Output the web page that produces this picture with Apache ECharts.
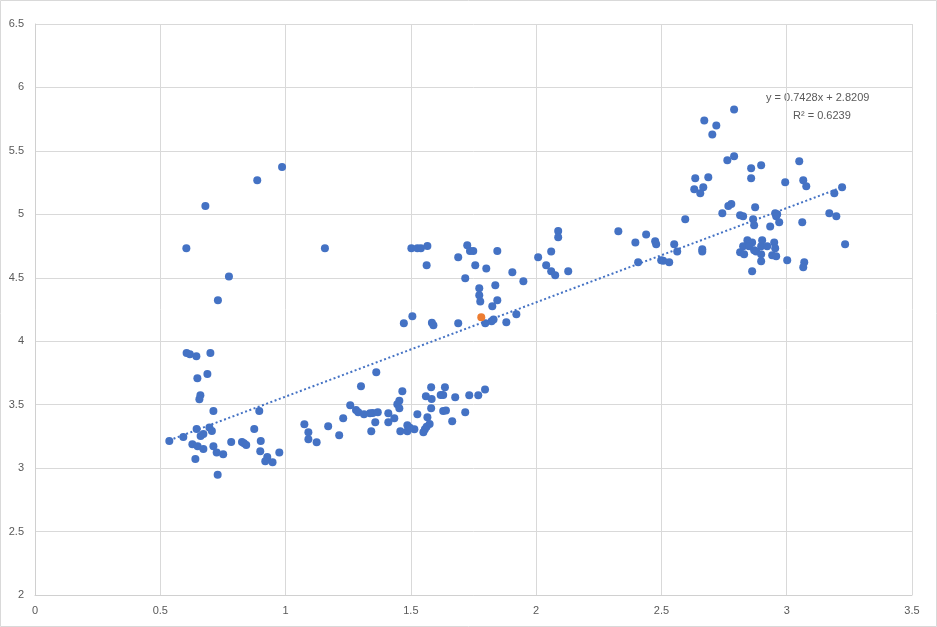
<!DOCTYPE html>
<html>
<head>
<meta charset="utf-8">
<script src="https://cdn.jsdelivr.net/npm/echarts@6/dist/echarts.min.js"></script>
<style>
html,body{margin:0;padding:0;background:#fff;}
#chart{width:937px;height:627px;}
</style>
</head>
<body>
<div id="chart"></div>
<script>
// ---- data ----
const xValues = [
0.604,0.680,0.774,0.730,0.887,0.986,
0.605,0.618,0.644,0.700,0.648,0.688,0.660,0.656,0.712,0.895,0.645,0.696,0.706,0.536,0.592,0.661,0.672,0.628,0.649,0.672,0.712,0.725,0.751,0.640,0.729,0.783,0.826,0.834,0.843,0.875,0.901,0.899,0.927,0.919,0.948,0.975,
1.362,1.301,1.466,1.581,1.636,1.560,1.583,1.619,1.629,1.677,1.733,1.769,1.796,1.258,1.281,1.290,1.313,1.337,1.348,1.368,1.410,1.454,1.446,1.454,1.526,1.581,1.629,1.640,1.717,1.566,1.575,1.563,1.556,1.550,1.665,1.434,1.410,1.358,1.230,1.170,1.214,1.342,1.458,1.486,1.486,1.496,1.514,1.075,1.091,1.091,1.124,
1.157,1.502,1.526,1.540,1.566,1.563,1.472,1.506,1.584,1.590,1.689,1.689,1.725,1.736,1.749,1.757,1.801,1.845,1.717,1.773,1.773,1.777,1.837,1.845,1.825,1.797,1.822,1.830,1.881,1.921,1.905,1.949,2.008,2.060,2.040,2.060,2.076,2.088,2.088,2.128,
2.328,2.396,2.439,2.475,2.479,2.407,2.499,2.507,2.531,2.551,2.563,2.595,
2.790,2.671,2.719,2.703,2.790,2.763,2.858,2.898,3.050,2.858,2.994,3.066,3.078,2.635,2.687,2.631,2.667,2.655,3.190,3.221,
2.779,2.767,2.874,2.743,2.814,2.826,2.866,2.870,2.934,2.954,2.962,2.958,2.970,3.062,3.170,3.198,3.233,2.663,2.663,2.843,2.862,2.902,2.950,2.826,2.850,2.898,2.922,2.954,2.814,2.830,2.870,2.878,2.898,2.942,2.958,2.898,3.002,3.070,3.066,2.862
];
const yValues = [
4.732,5.065,4.511,4.322,5.268,5.373,
3.907,3.897,3.881,3.907,3.708,3.742,3.574,3.542,3.450,3.450,3.308,3.321,3.292,3.214,3.245,3.253,3.269,3.188,3.172,3.150,3.172,3.124,3.109,3.072,2.948,3.206,3.206,3.195,3.182,3.308,3.214,3.132,3.087,3.054,3.046,3.124,
3.755,3.645,3.605,3.637,3.637,3.566,3.544,3.576,3.576,3.558,3.574,3.574,3.619,3.495,3.458,3.440,3.424,3.432,3.434,3.440,3.432,3.531,3.503,3.471,3.424,3.471,3.450,3.455,3.440,3.400,3.348,3.326,3.306,3.282,3.369,3.392,3.361,3.361,3.392,3.329,3.258,3.290,3.290,3.337,3.290,3.318,3.306,3.345,3.282,3.227,3.203,
4.732,4.732,4.732,4.732,4.750,4.598,4.141,4.196,4.146,4.125,4.141,4.661,4.756,4.711,4.711,4.598,4.574,4.711,4.496,4.417,4.362,4.314,4.441,4.322,4.275,4.141,4.157,4.172,4.149,4.212,4.543,4.472,4.661,4.708,4.598,4.551,4.519,4.868,4.819,4.551,
4.866,4.779,4.842,4.787,4.764,4.622,4.638,4.634,4.622,4.764,4.708,4.961,
5.827,5.740,5.701,5.630,5.457,5.426,5.363,5.386,5.418,5.284,5.252,5.268,5.221,5.284,5.292,5.197,5.213,5.166,5.166,5.213,
5.081,5.065,5.055,5.008,4.992,4.984,4.961,4.913,4.905,5.008,5.000,4.984,4.937,4.937,5.008,4.984,4.764,4.724,4.708,4.795,4.779,4.795,4.779,4.748,4.748,4.748,4.748,4.732,4.701,4.685,4.716,4.708,4.685,4.677,4.669,4.630,4.638,4.622,4.582,4.551
];
const highlightX = [1.781];
const highlightY = [4.188];
const trendSlope = 0.7428;
const trendIntercept = 2.8209;
const trendR2 = 0.6239;
const equationLines = ['y = 0.7428x + 2.8209', 'R² = 0.6239'];

// ---- build ----
const points = xValues.map((x, i) => [x, yValues[i]]);
const hiPoints = highlightX.map((x, i) => [x, highlightY[i]]);
const minX = Math.min(...xValues), maxX = Math.max(...xValues);
const trend = [[minX, trendSlope * minX + trendIntercept], [maxX, trendSlope * maxX + trendIntercept]];

const chart = echarts.init(document.getElementById('chart'), null, {renderer: 'canvas'});
const labelFont = {color: '#595959', fontSize: 11, fontFamily: 'Liberation Sans, Arial, sans-serif'};
const gridLine = {show: true, lineStyle: {color: '#d9d9d9', width: 1}};

chart.setOption({
  animation: false,
  backgroundColor: '#fff',
  grid: {left: 35, top: 24, right: 25, bottom: 32},
  xAxis: {
    type: 'value', min: 0, max: 3.5, interval: 0.5,
    axisLine: {show: true, lineStyle: {color: '#d0d0d0'}},
    axisTick: {show: false},
    splitLine: gridLine,
    axisLabel: Object.assign({margin: 10}, labelFont)
  },
  yAxis: {
    type: 'value', min: 2, max: 6.5, interval: 0.5,
    axisLine: {show: true, lineStyle: {color: '#d0d0d0'}},
    axisTick: {show: false},
    splitLine: gridLine,
    axisLabel: Object.assign({margin: 11}, labelFont)
  },
  series: [
    {type: 'scatter', data: points, symbolSize: 8, itemStyle: {color: '#4472C4', opacity: 1}, z: 2},
    {type: 'scatter', data: hiPoints, symbolSize: 8, itemStyle: {color: '#ED7D31', opacity: 1}, z: 3},
    {type: 'line', data: trend, showSymbol: false, symbol: 'none', z: 4,
     lineStyle: {color: '#4472C4', width: 2, type: [2, 2.5], cap: 'butt'}}
  ],
  graphic: [
    {type: 'rect', shape: {x: 0.5, y: 0.5, width: 936, height: 626}, style: {fill: 'none', stroke: '#d9d9d9', lineWidth: 1}, silent: true},
    {type: 'text', left: 766, top: 92, style: Object.assign({text: equationLines[0]}, {fill: '#595959', fontSize: 11, fontFamily: 'Liberation Sans, Arial, sans-serif'})},
    {type: 'text', left: 793, top: 110, style: Object.assign({text: equationLines[1]}, {fill: '#595959', fontSize: 11, fontFamily: 'Liberation Sans, Arial, sans-serif'})}
  ]
});
</script>
</body>
</html>
